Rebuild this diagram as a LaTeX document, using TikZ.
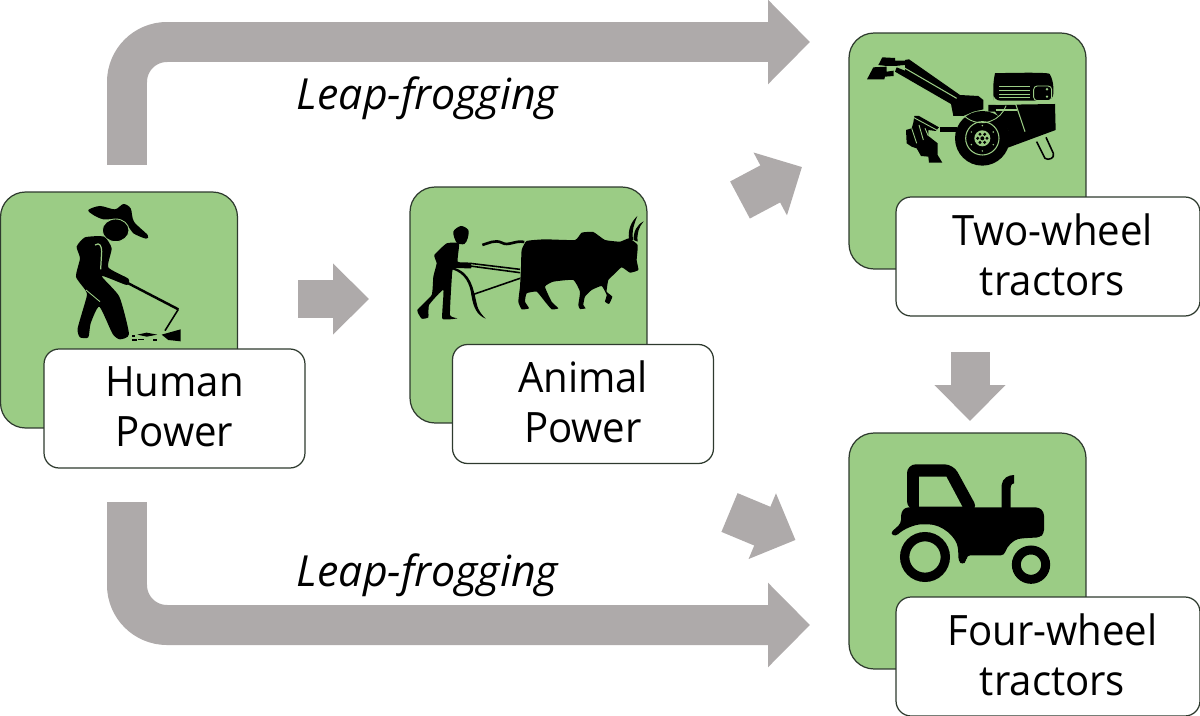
\documentclass[tikz,border=0pt]{standalone}
\usepackage{fontspec}
\setmainfont{Open Sans}
\newfontfamily\namefont[FakeStretch=0.96]{Open Sans}
\usetikzlibrary{arrows.meta}
\definecolor{stagegreen}{HTML}{9BCC85}
\definecolor{arrowgray}{HTML}{AEAAAA}
\definecolor{rimgray}{HTML}{2E3A2E}
\tikzset{
  stagebox/.style={draw=rimgray, line width=0.7pt, fill=stagegreen, rounded corners=0.5cm, minimum width=4.74cm, minimum height=4.72cm, inner sep=0pt},
  namebox/.style={draw=rimgray, line width=0.7pt, fill=white, rounded corners=0.3cm, minimum width=5.22cm, minimum height=2.38cm, align=center, inner sep=0pt, text depth=2.3pt, font=\namefont\fontsize{23.8}{28.4}\selectfont},
  leaptext/.style={font=\fontsize{24.4}{28.4}\selectfont\itshape, inner sep=0pt},
  leaparrow/.style={draw=arrowgray, line width=0.8cm, rounded corners=0.8cm, -{Triangle[length=0.84cm, width=1.64cm, fill=arrowgray]}},
  shortarrow/.style={draw=arrowgray, line width=0.78cm, -{Triangle[length=0.72cm, width=1.38cm, fill=arrowgray]}},
  zoomed/.style={x=0.006667cm, y=-0.006667cm}
}
\begin{document}
\begin{tikzpicture}[x=0.02cm, y=-0.02cm]
  \useasboundingbox (0,0) rectangle (1200,716);
  % flow arrows
  \coordinate (topstart) at (127,165);
  \coordinate (topend) at (810,42);
  \coordinate (lowstart) at (127,502);
  \coordinate (lowend) at (810,625);
  \draw [leaparrow] (topstart) |- (topend);
  \draw [leaparrow] (lowstart) |- (lowend);
  \node [leaptext] (leaptop) at (427.5,98) {Leap-frogging};
  \node [leaptext] (leaplow) at (427.5,575) {Leap-frogging};
  \coordinate (a1) at (298,299);
  \coordinate (b1) at (369,299);
  \coordinate (a2) at (740,200);
  \coordinate (b2) at (802,167);
  \coordinate (a3) at (970,352);
  \coordinate (b3) at (970,421);
  \coordinate (a4) at (729.5,512.5);
  \coordinate (b4) at (795.5,540);
  \draw [shortarrow] (a1) -- (b1);
  \draw [shortarrow, line width=0.84cm] (a2) -- (b2);
  \draw [shortarrow] (a3) -- (b3);
  \draw [shortarrow, line width=0.84cm] (a4) -- (b4);
  % stages
  \node [stagebox] (human) at (119,310) {};
  \node [stagebox] (animal) at (528.5,305) {};
  \node [stagebox] (twowheel) at (967.5,151) {};
  \node [stagebox] (fourwheel) at (967.5,551) {};
  % farmer
  \begin{scope}[shift={(0,180)}, zoomed]
    \fill plot [smooth cycle, tension=0.5] coordinates {(265,90) (300,78) (345,88) (370,72) (392,85) (402,125) (443,165) (438,176) (400,160) (385,140) (350,118) (310,118) (280,105)};
    \filldraw [draw=stagegreen, line width=0.5pt] (347,151) ellipse (40 and 34);
    \fill plot [smooth cycle, tension=0.35] coordinates {(230,200) (255,172) (312,170) (335,205) (325,262) (385,296) (380,315) (305,288) (358,350) (387,462) (360,478) (338,462) (298,380) (272,430) (265,472) (240,472) (233,445) (260,350) (256,330) (228,290) (240,235)};
    \draw [stagegreen, line width=0.7pt] (285,195) .. controls (300,185) and (305,200) .. (305,215) -- (302,268);
    \draw [stagegreen, line width=0.5pt] (258,330) -- (300,365);
    \draw [line width=1.4pt] (385,310) -- (535,388);
    \draw [line width=0.9pt] (535,388) -- (495,452);
    \fill (412,464) -- (440,458) -- (472,464) -- (440,470) -- cycle;
    \fill (485,464) -- (542,448) -- (542,484) -- (505,480) -- cycle;
    \fill (396,466) rectangle (406,471);
    \fill (396,478) rectangle (410,483);
    \fill (458,476) rectangle (470,483);
    \fill (415,477) rectangle (432,481);
  \end{scope}
  % ploughman and ox
  \begin{scope}[shift={(405,180)}, zoomed]
    \fill plot [smooth cycle, tension=0.5] coordinates {(145,155) (168,138) (190,150) (188,175) (178,192) (155,188)};
    \fill plot [smooth cycle, tension=0.25] coordinates {(88,225) (125,190) (162,190) (158,245) (195,248) (198,265) (145,265) (140,300) (135,405) (157,415) (112,416) (115,330) (72,375) (70,412) (50,416) (37,390) (80,345) (85,290) (95,250)};
    \draw [line width=0.9pt] (195,250) -- (345,268);
    \draw [line width=0.9pt] (195,258) -- (345,278);
    \draw [line width=0.9pt] (200,345) -- (345,295);
    \fill (142,262) .. controls (200,275) and (205,330) .. (215,370) .. controls (220,395) and (232,405) .. (242,416) .. controls (215,405) and (205,380) .. (200,350) .. controls (195,310) and (180,280) .. (142,268) -- cycle;
    \draw [line width=1.5pt] (358,186) .. controls (330,180) and (310,200) .. (290,188) .. controls (270,178) and (250,190) .. (232,195);
    \fill plot [smooth cycle, tension=0.25] coordinates {(350,210) (365,183) (420,178) (510,180) (530,158) (565,156) (600,180) (645,185) (672,175) (698,195) (695,240) (700,270) (675,278) (650,262) (625,285) (610,300) (605,335) (622,350) (612,372) (600,365) (605,345) (590,318) (560,330) (540,350) (535,375) (542,385) (525,387) (520,375) (525,335) (505,300) (445,305) (420,320) (440,365) (460,385) (440,388) (420,365) (395,335) (365,340) (360,365) (372,385) (350,388) (340,365) (345,320) (348,260)};
    \fill (672,180) .. controls (668,145) and (680,125) .. (697,108) .. controls (688,130) and (680,150) .. (684,180) -- cycle;
    \fill (686,180) .. controls (685,155) and (695,135) .. (716,124) .. controls (702,140) and (695,160) .. (698,185) -- cycle;
  \end{scope}
  % two-wheel tractor
  \begin{scope}[shift={(845,30)}, zoomed]
    \fill (66,148) -- (85,112) -- (125,110) -- (125,125) -- (146,122) -- (146,138) -- (120,140) -- (118,148) -- cycle;
    \fill (100,105) -- (112,82) -- (150,84) -- (150,92) -- (180,92) -- (180,105) -- (150,108) -- (125,108) -- cycle;
    \fill (180,90) -- (192,88) -- (345,195) -- (400,198) -- (415,210) -- (415,238) -- (385,245) -- (355,258) -- (325,258) -- (318,222) -- (150,125) -- (155,112) -- (180,122) -- cycle;
    \draw [stagegreen, line width=0.6pt] (168,108) -- (335,205);
    \fill (430,225) -- (630,222) -- (632,300) -- (470,360) -- (490,300) -- (450,245) -- (430,245) -- cycle;
    \fill [rounded corners=4pt] (445,190) -- (445,150) .. controls (450,130) and (610,125) .. (625,150) -- (625,212) -- (445,212) -- cycle;
    \foreach \y in {170,181,192,203}
    \draw [stagegreen, line width=0.5pt] (463,\y) -- (555,\y);
    \draw [stagegreen, line width=0.5pt, rounded corners=2pt] (566,168) rectangle (620,212);
    \fill [stagegreen] (606,178) circle (4) (606,200) circle (4);
    \draw [stagegreen, line width=0.6pt] (452,222) -- (512,222) -- (540,305);
    \draw [stagegreen, line width=0.6pt] (452,240) -- (515,240);
    \draw [line width=0.9pt] (575,335) -- (600,385) .. controls (610,392) and (630,385) .. (625,370) -- (603,322);
    \fill (285,292) rectangle (335,305);
    \fill (208,258) -- (222,258) -- (282,292) -- (272,303) -- (250,300) -- (250,318) -- (278,340) -- (278,375) -- (292,398) -- (252,398) -- (250,380) -- (228,378) -- (215,355) -- (200,350) -- (185,340) -- (183,300) -- (200,295) -- (205,278) -- cycle;
    \draw [stagegreen, line width=0.5pt] (205,262) -- (275,300);
    \draw [stagegreen, line width=0.5pt] (200,295) -- (215,340) (222,285) -- (235,330) (240,295) -- (250,318);
    \fill (412,325) circle (82);
    \draw [stagegreen, line width=0.5pt] (360,260) arc (130:20:78);
    \draw [stagegreen, line width=0.6pt] (412,325) circle (50);
    \fill [stagegreen] (412,325) circle (24);
    \foreach \a in {0,60,...,300}
    \fill (412,325) ++(\a:14) circle (5);
    \fill (412,325) circle (6);
    \foreach \a in {30,90,...,330}
    \fill [stagegreen] (412,325) ++(\a:38) circle (2.5);
  \end{scope}
  % four-wheel tractor
  \begin{scope}[shift={(845,430)}, zoomed]
    \fill [rounded corners=5pt] (186,240) -- (186,103) -- (325,103) -- (400,240) -- cycle;
    \fill [stagegreen] (222,140) -- (304,140) -- (352,230) -- (222,230) -- cycle;
    \fill [rounded corners=2pt] (135,310) -- (168,280) -- (168,248) -- (180,232) -- (582,232) -- (597,246) -- (597,310) -- (585,322) -- (530,325) .. controls (505,330) and (485,350) .. (478,376) -- (365,376) -- (365,392) -- (352,405) -- (340,392) -- (340,365) .. controls (335,320) and (290,283) .. (240,283) .. controls (210,283) and (175,297) .. (152,320) -- cycle;
    \fill (470,240) -- (470,165) .. controls (472,145) and (490,135) .. (507,135) -- (507,160) .. controls (497,162) and (497,170) .. (497,180) -- (497,240) -- cycle;
    \draw [line width=5.3pt] (240,381) circle (61);
    \draw [line width=5.1pt] (558,404) circle (44);
  \end{scope}
  % labels
  \node [namebox] (humanname) at (174.5,408.5) {Human\\Power};
  \node [namebox] (animalname) at (583,404) {Animal\\Power};
  \node [namebox, minimum width=6.08cm] (twoname) at (1048,256.5) {\hspace*{0.18cm}Two-wheel\\\hspace*{0.18cm}tractors};
  \node [namebox, minimum width=6.08cm] (fourname) at (1048,656.5) {\hspace*{0.18cm}Four-wheel\\\hspace*{0.18cm}tractors};
\end{tikzpicture}
\end{document}
